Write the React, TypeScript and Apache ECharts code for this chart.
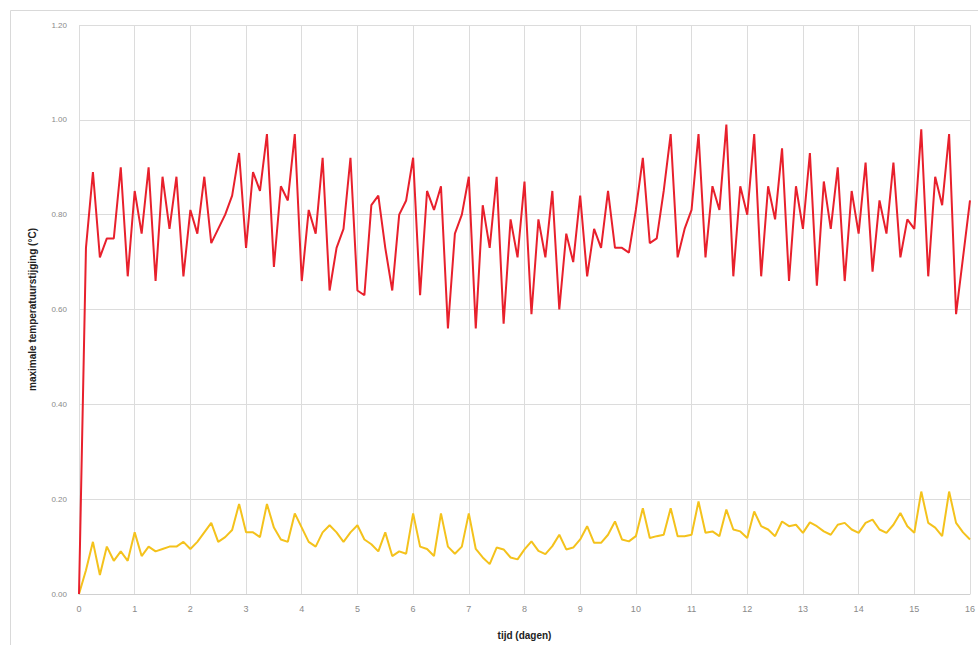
import React, { useEffect, useRef } from "react";
import * as echarts from "echarts";

// sampling: 8 samples per day (every 3 hours), 0..16 days
const STEP_DAYS = 0.125;

const redValues: number[] = [
  0.0, 0.73, 0.89, 0.71, 0.75, 0.75, 0.9, 0.67, 0.85, 0.76,
  0.9, 0.66, 0.88, 0.77, 0.88, 0.67, 0.81, 0.76, 0.88, 0.74,
  0.77, 0.8, 0.84, 0.93, 0.73, 0.89, 0.85, 0.97, 0.69, 0.86,
  0.83, 0.97, 0.66, 0.81, 0.76, 0.92, 0.64, 0.73, 0.77, 0.92,
  0.64, 0.63, 0.82, 0.84, 0.73, 0.64, 0.8, 0.83, 0.92, 0.63,
  0.85, 0.81, 0.86, 0.56, 0.76, 0.8, 0.88, 0.56, 0.82, 0.73,
  0.88, 0.57, 0.79, 0.71, 0.87, 0.59, 0.79, 0.71, 0.85, 0.6,
  0.76, 0.7, 0.84, 0.67, 0.77, 0.73, 0.85, 0.73, 0.73, 0.72,
  0.81, 0.92, 0.74, 0.75, 0.85, 0.97, 0.71, 0.77, 0.81, 0.97,
  0.71, 0.86, 0.81, 0.99, 0.67, 0.86, 0.8, 0.97, 0.67, 0.86,
  0.79, 0.94, 0.66, 0.86, 0.77, 0.93, 0.65, 0.87, 0.77, 0.9,
  0.66, 0.85, 0.76, 0.91, 0.68, 0.83, 0.76, 0.91, 0.71, 0.79,
  0.77, 0.98, 0.67, 0.88, 0.82, 0.97, 0.59, 0.71, 0.83,
];

const yellowValues: number[] = [
  0.0, 0.05, 0.11, 0.04, 0.1, 0.07, 0.09, 0.07, 0.13, 0.08,
  0.1, 0.09, 0.095, 0.1, 0.1, 0.11, 0.095, 0.11, 0.13, 0.15,
  0.11, 0.12, 0.135, 0.19, 0.13, 0.13, 0.12, 0.19, 0.14, 0.115,
  0.11, 0.17, 0.14, 0.11, 0.1, 0.13, 0.145, 0.13, 0.11, 0.13,
  0.145, 0.115, 0.105, 0.09, 0.13, 0.08, 0.09, 0.085, 0.17, 0.1,
  0.095, 0.08, 0.17, 0.1, 0.085, 0.1, 0.17, 0.095, 0.077, 0.063,
  0.098, 0.094, 0.077, 0.073, 0.094, 0.111, 0.091, 0.084, 0.101, 0.125,
  0.094, 0.098, 0.115, 0.143, 0.108, 0.108, 0.125, 0.153, 0.115, 0.111,
  0.122, 0.181, 0.118, 0.122, 0.125, 0.181, 0.122, 0.122, 0.125, 0.195,
  0.129, 0.132, 0.122, 0.178, 0.136, 0.132, 0.118, 0.174, 0.143, 0.136,
  0.122, 0.153, 0.143, 0.146, 0.129, 0.151, 0.143, 0.132, 0.125, 0.146,
  0.15, 0.136, 0.129, 0.15, 0.157, 0.136, 0.129, 0.146, 0.171, 0.143,
  0.129, 0.216, 0.15, 0.14, 0.122, 0.216, 0.15, 0.13, 0.115,
];

const xTicks = { min: 0, max: 16, interval: 1 };
const yTicks = { min: 0, max: 1.2, interval: 0.2 };

const xAxisName = "tijd (dagen)";
const yAxisName = "maximale temperatuurstijging (°C)";

const FONT = "'Liberation Sans', Arial, sans-serif";

export default function App() {
  const ref = useRef<HTMLDivElement>(null);

  useEffect(() => {
    document.body.style.margin = "0";
    if (!ref.current) return;
    const chart = echarts.init(ref.current, undefined, { renderer: "svg" });

    const redData = redValues.map((v, i) => [i * STEP_DAYS, v]);
    const yellowData = yellowValues.map((v, i) => [i * STEP_DAYS, v]);

    chart.setOption({
      animation: false,
      backgroundColor: "#ffffff",
      textStyle: { fontFamily: FONT },
      graphic: [
        {
          type: "rect",
          shape: { x: 10.5, y: 10.5, width: 1000, height: 1000 },
          style: { fill: "none", stroke: "#d9d9d9", lineWidth: 1 },
          silent: true,
          z: -1,
        },
      ],
      grid: { left: 79, right: 8, top: 25, bottom: 50, containLabel: false },
      xAxis: {
        type: "value",
        min: xTicks.min,
        max: xTicks.max,
        interval: xTicks.interval,
        name: xAxisName,
        nameLocation: "middle",
        nameGap: 36,
        nameTextStyle: { fontFamily: FONT, fontSize: 10, fontWeight: "bold", color: "#222" },
        axisLine: { show: true, lineStyle: { color: "#d0d0d0", width: 1 } },
        axisTick: { show: false },
        axisLabel: { color: "#8a8a8a", fontSize: 9, margin: 10, fontFamily: FONT },
        splitLine: { show: true, lineStyle: { color: "#dcdcdc", width: 1 } },
      },
      yAxis: {
        type: "value",
        min: yTicks.min,
        max: yTicks.max,
        interval: yTicks.interval,
        name: yAxisName,
        nameLocation: "middle",
        nameRotate: 90,
        nameGap: 42,
        nameTextStyle: { fontFamily: FONT, fontSize: 10, fontWeight: "bold", color: "#222" },
        axisLine: { show: false },
        axisTick: { show: false },
        axisLabel: {
          color: "#8a8a8a",
          fontSize: 8,
          margin: 12,
          fontFamily: FONT,
          formatter: (v: number) => v.toFixed(2),
        },
        splitLine: { show: true, lineStyle: { color: "#dcdcdc", width: 1 } },
      },
      series: [
        {
          name: "yellow",
          type: "line",
          data: yellowData,
          showSymbol: false,
          symbol: "none",
          lineStyle: { color: "#f4c21c", width: 2 },
          itemStyle: { color: "#f4c21c" },
          z: 2,
        },
        {
          name: "red",
          type: "line",
          data: redData,
          showSymbol: false,
          symbol: "none",
          lineStyle: { color: "#e8202c", width: 2 },
          itemStyle: { color: "#e8202c" },
          z: 3,
        },
      ],
    });

    return () => chart.dispose();
  }, []);

  return <div ref={ref} style={{ width: 978, height: 645 }} />;
}
